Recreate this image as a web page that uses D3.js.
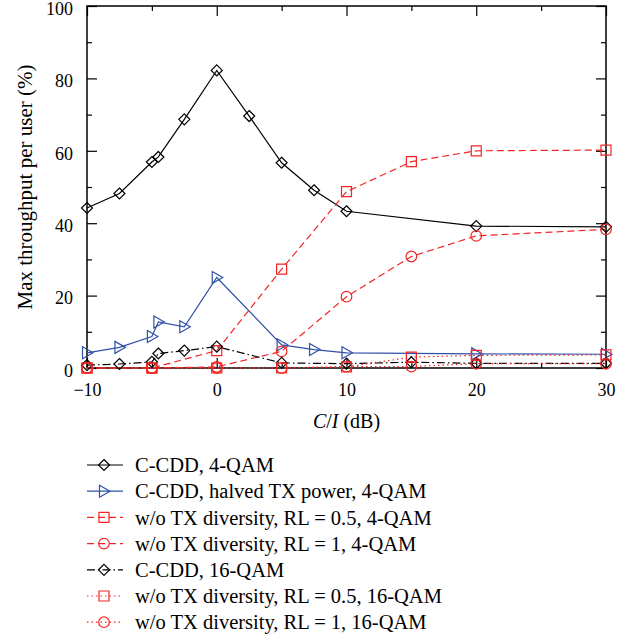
<!DOCTYPE html>
<html>
<head>
<meta charset="utf-8">
<script src="https://cdn.jsdelivr.net/npm/d3@7"></script>
<style>
  body { margin: 0; background: #fff; }
  svg text { font-family: "Liberation Serif", "DejaVu Serif", serif; fill: #000; }
  .axis path { display: none; }
  .axis line { stroke: #000; stroke-width: 1.2; }
  .axis text { font-size: 18px; }
</style>
</head>
<body>
<div id="chart"></div>
<script>
// --- data ---
const xMajor = [-10, 0, 10, 20, 30];
const xMinor = [-5, 5, 15, 25];
const yMajor = [0, 20, 40, 60, 80, 100];
const yMinor = [10, 30, 50, 70, 90];

const cdd4X = [-10, -7.5, -5, -4.5, -2.5, 0, 2.5, 5, 7.5, 10, 20, 30];
const cdd4Y = [44.2, 48.2, 56.9, 58.3, 68.7, 82.2, 69.6, 56.7, 49.1, 43.3, 39.2, 39.0];

const cddHalfX = [-10, -7.5, -5, -4.5, -2.5, 0, 5, 7.5, 10, 20, 30];
const cddHalfY = [4.2, 5.7, 8.7, 12.7, 11.4, 25.0, 6.4, 5.1, 4.2, 3.9, 3.8];

const noDivX = [-10, -5, 0, 5, 10, 15, 20, 30];
const noDivRL05QAM4 = [0, 0, 4.8, 27.3, 48.7, 57.0, 60.0, 60.2];
const noDivRL1QAM4 = [0, 0, 0.3, 4.6, 19.7, 30.8, 36.5, 38.3];
const noDivRL05QAM16 = [0, 0, 0, 0, 0.3, 3.0, 3.5, 3.6];
const noDivRL1QAM16 = [0, 0, 0, 0, 0.4, 0.4, 1.2, 1.2];

const cdd16X = [-10, -7.5, -5, -4.5, -2.5, 0, 5, 10, 15, 20, 30];
const cdd16Y = [0.8, 1.1, 1.7, 4.0, 4.8, 5.9, 1.4, 1.2, 1.6, 1.3, 1.3];

const legendLabels = [
  "C-CDD, 4-QAM",
  "C-CDD, halved TX power, 4-QAM",
  "w/o TX diversity, RL = 0.5, 4-QAM",
  "w/o TX diversity, RL = 1, 4-QAM",
  "C-CDD, 16-QAM",
  "w/o TX diversity, RL = 0.5, 16-QAM",
  "w/o TX diversity, RL = 1, 16-QAM"
];

// --- styles ---
const BLACK = "#000", BLUE = "#2f50a8", RED = "#f22525";
const DASH = "7,4", DASHDOT = "8,3,1.5,3", DOT = "1.5,3";
const SERIF = '"Liberation Serif", "DejaVu Serif", serif';

const series = [
  {xs: cdd4X,    ys: cdd4Y,          color: BLACK, dash: null,    marker: "diamond"},
  {xs: cddHalfX, ys: cddHalfY,       color: BLUE,  dash: null,    marker: "triangle"},
  {xs: noDivX,   ys: noDivRL05QAM4,  color: RED,   dash: DASH,    marker: "square"},
  {xs: noDivX,   ys: noDivRL1QAM4,   color: RED,   dash: DASH,    marker: "circle"},
  {xs: cdd16X,   ys: cdd16Y,         color: BLACK, dash: DASHDOT, marker: "diamond"},
  {xs: noDivX,   ys: noDivRL05QAM16, color: RED,   dash: DOT,     marker: "square"},
  {xs: noDivX,   ys: noDivRL1QAM16,  color: RED,   dash: DOT,     marker: "circle"}
];
series.forEach((s, i) => {
  s.label = legendLabels[i];
  s.points = s.xs.map((x, j) => ({x: x, y: s.ys[j]}));
});

// --- canvas ---
const W = 632, H = 640;
const plot = {left: 87, right: 606, top: 6, bottom: 368};

const svg = d3.select("#chart").append("svg")
  .attr("width", W).attr("height", H)
  .style("display", "block");

const x = d3.scaleLinear().domain([-10, 30]).range([plot.left, plot.right]);
const y = d3.scaleLinear().domain([0, 100]).range([plot.bottom, plot.top]);

// ticks (inward on all four sides)
function addAxis(axisFn, scale, major, minor, tx, ty, labels) {
  const g = svg.append("g").attr("class", "axis").attr("transform", `translate(${tx},${ty})`);
  g.call(axisFn(scale).tickValues(major).tickSize(-10).tickPadding(labels ? 14 : 0)
    .tickFormat(labels ? (d => (d < 0 ? "\u2212" + Math.abs(d) : d)) : ""));
  g.attr("font-family", SERIF).attr("font-size", 18);
  const gm = svg.append("g").attr("class", "axis").attr("transform", `translate(${tx},${ty})`);
  gm.call(axisFn(scale).tickValues(minor).tickSize(-5).tickFormat(""));
  return g;
}
const bottomAx = addAxis(d3.axisBottom, x, xMajor, xMinor, 0, plot.bottom, true);
bottomAx.selectAll("text").attr("dy", "0.71em").attr("transform", "translate(0,1)");
addAxis(d3.axisTop, x, xMajor, xMinor, 0, plot.top, false);
const leftAx = addAxis(d3.axisLeft, y, yMajor, yMinor, plot.left, 0, true);
leftAx.selectAll("text").attr("transform", "translate(0,2.5)");
addAxis(d3.axisRight, y, yMajor, yMinor, plot.right, 0, false);

// frame
svg.append("rect")
  .attr("x", plot.left).attr("y", plot.top)
  .attr("width", plot.right - plot.left).attr("height", plot.bottom - plot.top)
  .attr("fill", "none").attr("stroke", "#000").attr("stroke-width", 1.5);

// axis titles
svg.append("text")
  .attr("x", (plot.left + plot.right) / 2).attr("y", 428)
  .attr("text-anchor", "middle").style("font-size", "20px")
  .html('<tspan font-style="italic">C</tspan>/<tspan font-style="italic">I</tspan> (dB)');

svg.append("text")
  .attr("transform", `translate(32,${(plot.top + plot.bottom) / 2}) rotate(-90)`)
  .attr("text-anchor", "middle").style("font-size", "21px")
  .text("Max throughput per user (%)");

// markers
function markerPath(type) {
  if (type === "diamond") return "M0,-5.5L5.5,0L0,5.5L-5.5,0Z";
  if (type === "square") return "M-5,-5H5V5H-5Z";
  if (type === "triangle") return "M-4.5,-6L6,0L-4.5,6Z";
  return d3.symbol(d3.symbolCircle, Math.PI * 5.3 * 5.3)();
}

const line = d3.line().x(d => x(d.x)).y(d => y(d.y));

const lines = svg.append("g");
series.forEach(s => {
  lines.append("path")
    .datum(s.points)
    .attr("d", line)
    .attr("fill", "none")
    .attr("stroke", s.color)
    .attr("stroke-width", 1.2)
    .attr("stroke-dasharray", s.dash);
});

series.forEach(s => {
  lines.append("g").selectAll("path")
    .data(s.points)
    .enter().append("path")
      .attr("transform", d => `translate(${x(d.x)},${y(d.y)})`)
      .attr("d", markerPath(s.marker))
      .attr("fill", "none")
      .attr("stroke", s.color)
      .attr("stroke-width", 1.2);
});

// legend
const legend = svg.append("g").attr("transform", "translate(87,465)");
const rowH = 26.2;
series.forEach((s, i) => {
  const row = legend.append("g").attr("transform", `translate(0,${i * rowH})`);
  row.append("line")
    .attr("x1", 0).attr("x2", 36).attr("y1", 0).attr("y2", 0)
    .attr("stroke", s.color).attr("stroke-width", 1.2)
    .attr("stroke-dasharray", s.dash);
  row.append("path")
    .attr("transform", "translate(17,0)")
    .attr("d", markerPath(s.marker))
    .attr("fill", "none").attr("stroke", s.color).attr("stroke-width", 1.2);
  row.append("text")
    .attr("x", 48).attr("y", 0).attr("dy", "0.35em")
    .style("font-size", "20.5px")
    .text(s.label);
});
</script>
</body>
</html>
